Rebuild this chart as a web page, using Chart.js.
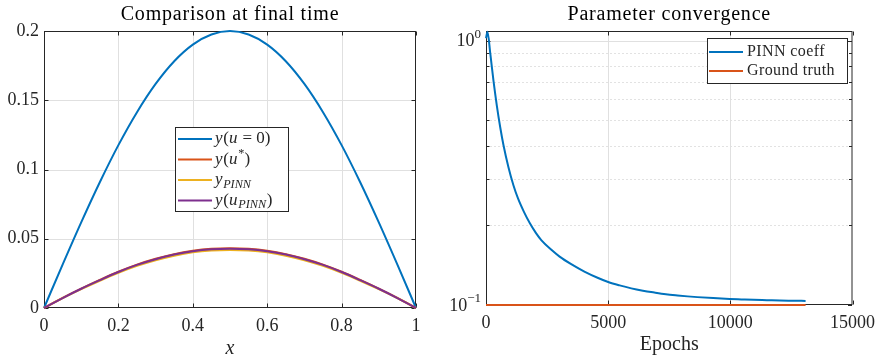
<!DOCTYPE html>
<html><head><meta charset="utf-8">
<script src="https://cdn.jsdelivr.net/npm/chart.js@4.4.1/dist/chart.umd.min.js"></script>
<style>
html,body{margin:0;padding:0;background:#fff;}
#wrap{position:relative;width:882px;height:360px;overflow:hidden;}
.box{position:absolute;top:0;width:441px;height:360px;}
</style></head><body>
<div id="wrap">
<div class="box" style="left:0"><canvas id="c1"></canvas></div>
<div class="box" style="left:441px"><canvas id="c2"></canvas></div>
</div>
<script>
// ---------------- data: left panel ----------------
const xPositions = [0,0.05,0.1,0.15,0.2,0.25,0.3,0.35,0.4,0.45,0.5,0.55,0.6,0.65,0.7,0.75,0.8,0.85,0.9,0.95,1];
const yNoControl = [0,0.0313,0.0618,0.0908,0.1176,0.1414,0.1618,0.1782,0.1902,0.1975,0.2000,0.1975,0.1902,0.1782,0.1618,0.1414,0.1176,0.0908,0.0618,0.0313,0];
const yOptimal   = [0,0.0073,0.0140,0.0203,0.0262,0.0313,0.0355,0.0389,0.0413,0.0427,0.0431,0.0427,0.0413,0.0389,0.0355,0.0313,0.0262,0.0203,0.0140,0.0073,0];
const yPinn      = [0,0.0071,0.0136,0.0197,0.0254,0.0304,0.0345,0.0378,0.0402,0.0415,0.0419,0.0415,0.0402,0.0378,0.0345,0.0304,0.0254,0.0197,0.0136,0.0071,0];
const yPinnCtrl  = [0,0.0072,0.0139,0.0201,0.0260,0.0311,0.0352,0.0386,0.0410,0.0424,0.0428,0.0424,0.0410,0.0386,0.0352,0.0311,0.0260,0.0201,0.0139,0.0072,0];
const xTickValues = [0,0.2,0.4,0.6,0.8,1];
const xTickLabels = ['0','0.2','0.4','0.6','0.8','1'];
const yTickValues = [0,0.05,0.1,0.15,0.2];
const yTickLabels = ['0','0.05','0.1','0.15','0.2'];
const leftSeriesNames = ['y(u = 0)','y(u*)','y_PINN','y(u_PINN)'];

// ---------------- data: right panel ----------------
const epochs    = [0,60,174,308,446,580,714,916,1119,1310,1553,1796,2040,2271,2676,3013,3487,4027,4566,5000,5470,5945,6420,6890,7360,7840,8250,8650,9300,9975,10450,10950,11500,12030,12550,13080];
const pinnCoeff = [1.02,1.08,0.896,0.702,0.565,0.471,0.4026,0.3325,0.2844,0.2529,0.2250,0.2036,0.1874,0.1756,0.1617,0.1524,0.1427,0.1338,0.1268,0.1222,0.1186,0.1156,0.1133,0.1115,0.1099,0.1087,0.1078,0.1071,0.1062,0.1054,0.1050,0.1046,0.1043,0.1040,0.1038,0.1036];
const truthEpochs = [0,13080];
const truthCoeff  = [0.1,0.1];
const epochTickValues = [0,5000,10000,15000];
const epochTickLabels = ['0','5000','10000','15000'];
const coeffMajorTicks = [0.1,1];
const coeffTickExponents = ['\u22121','0'];
const coeffMinorTicks = [0.2,0.3,0.4,0.5,0.6,0.7,0.8,0.9];
const rightSeriesNames = ['PINN coeff','Ground truth'];

// ---------------- styling ----------------
const FONT = '"Liberation Serif","Times New Roman",serif';
const INK = '#262626';
const GRIDC = '#e0e0e0';
const C_BLUE = '#0072BD', C_RED = '#D95319', C_YEL = '#EDB120', C_PUR = '#7E2F8E';
Chart.defaults.font.family = FONT;
Chart.defaults.color = INK;

const leftLegendRich = [
  [{t:'y',it:1},{t:'('},{t:'u',it:1},{t:' = 0)'}],
  [{t:'y',it:1},{t:'('},{t:'u',it:1},{t:'*',sup:1},{t:')'}],
  [{t:'y',it:1},{t:'PINN',it:1,sub:1}],
  [{t:'y',it:1},{t:'('},{t:'u',it:1},{t:'PINN',it:1,sub:1},{t:')'}]
];

function drawRich(ctx, x, y, parts, size){
  ctx.textAlign='left'; ctx.textBaseline='middle';
  let cx = x;
  for(const p of parts){
    const s = (p.sub||p.sup) ? size*0.72 : size;
    ctx.font = (p.it?'italic ':'') + s + 'px ' + FONT;
    const dy = p.sub ? size*0.28 : (p.sup ? -size*0.32 : 0);
    ctx.fillText(p.t, cx, y+dy);
    cx += ctx.measureText(p.t).width + (p.it ? 0.6 : 0.3);
  }
  return cx - x;
}

function line(ctx,x1,y1,x2,y2){ctx.beginPath();ctx.moveTo(x1,y1);ctx.lineTo(x2,y2);ctx.stroke();}

function framePlugin(o){
  return {
    id:'frame',
    beforeDatasetsDraw(chart){
      const ctx = chart.ctx, a = chart.chartArea, xs = chart.scales.x, ys = chart.scales.y;
      const L = a.left+0.5, R = a.right-0.5, T = a.top+0.5, B = a.bottom-0.5;
      ctx.save();
      ctx.lineWidth = 1;
      if(o.yMinor){
        ctx.strokeStyle = '#c4c4c4'; ctx.setLineDash([1,3]);
        o.yMinor.forEach(v=>{const p=Math.round(ys.getPixelForValue(v))+0.5; line(ctx,L,p,R,p);});
        ctx.setLineDash([]);
      }
      ctx.strokeStyle = GRIDC;
      o.xGrid.forEach(v=>{const p=Math.round(xs.getPixelForValue(v))+0.5; if(p>L+1&&p<R-1) line(ctx,p,T,p,B);});
      o.yGrid.forEach(v=>{const p=Math.round(ys.getPixelForValue(v))+0.5; if(p>T+1&&p<B-1) line(ctx,L,p,R,p);});
      ctx.strokeStyle = INK;
      ctx.strokeRect(L,T,R-L,B-T);
      const tl = 4, mtl = 3;
      o.xGrid.forEach(v=>{const p=Math.round(xs.getPixelForValue(v))+0.5; line(ctx,p,B,p,B-tl); line(ctx,p,T,p,T+tl);});
      o.yGrid.forEach(v=>{const p=Math.round(ys.getPixelForValue(v))+0.5; line(ctx,L,p,L+tl,p); line(ctx,R,p,R-tl,p);});
      if(o.yMinor){
        o.yMinor.forEach(v=>{const p=Math.round(ys.getPixelForValue(v))+0.5; line(ctx,L,p,L+mtl,p); line(ctx,R,p,R-mtl,p);});
      }
      ctx.restore();
    },
    afterDatasetsDraw(chart){
      const ctx = chart.ctx, a = chart.chartArea, ys = chart.scales.y;
      const cx = (a.left+a.right)/2;
      ctx.save();
      ctx.fillStyle = '#000';
      ctx.font = '20px ' + FONT;
      ctx.letterSpacing = o.titleSpacing || '0px';
      ctx.textAlign = 'center'; ctx.textBaseline = 'middle';
      ctx.fillText(o.title, cx, o.titleY);
      ctx.letterSpacing = '0px';
      ctx.font = (o.xLabelItalic?'italic ':'') + '20px ' + FONT;
      ctx.fillStyle = INK;
      ctx.fillText(o.xLabel, cx, o.xLabelY);
      if(o.logLabels){
        o.logLabels.values.forEach((v,i)=>{
          const p = ys.getPixelForValue(v);
          ctx.font = '13px ' + FONT;
          const ew = ctx.measureText(o.logLabels.exps[i]).width;
          const right = a.left - 5;
          ctx.textAlign='right'; ctx.textBaseline='middle';
          ctx.fillText(o.logLabels.exps[i], right, p-6);
          ctx.font = '18px ' + FONT;
          ctx.fillText('10', right-ew, p+1);
        });
      }
      const lg = o.legend;
      ctx.fillStyle = '#fff'; ctx.strokeStyle = INK; ctx.lineWidth = 1;
      ctx.fillRect(lg.x, lg.y, lg.w, lg.h);
      ctx.strokeRect(lg.x+0.5, lg.y+0.5, lg.w, lg.h);
      lg.rows.forEach((yy,i)=>{
        ctx.strokeStyle = lg.colors[i]; ctx.lineWidth = 2;
        line(ctx, lg.lineX1, yy, lg.lineX2, yy);
        ctx.fillStyle = INK;
        if(lg.rich){ drawRich(ctx, lg.textX, yy, lg.rich[i], lg.size); }
        else { ctx.font=lg.size+'px '+FONT; ctx.letterSpacing='0.4px'; ctx.textAlign='left'; ctx.textBaseline='middle'; ctx.fillText(lg.names[i], lg.textX, yy); ctx.letterSpacing='0px'; }
      });
      ctx.restore();
    }
  };
}

// order: later-plotted series (as in the original) get a lower order so they sit on top
function ds(xArr, yArr, color, label, order){
  return { label, order, data: xArr.map((x,i)=>({x, y:yArr[i]})), borderColor: color, backgroundColor: color,
           borderWidth: 2, pointRadius: 0, fill:false, clip:false, cubicInterpolationMode:'monotone' };
}

const tickFont = {family: FONT, size: 18};

new Chart(document.getElementById('c1'), {
  type:'line',
  data:{ datasets:[
    ds(xPositions, yNoControl, C_BLUE, leftSeriesNames[0], 4),
    ds(xPositions, yOptimal,   C_RED,  leftSeriesNames[1], 3),
    ds(xPositions, yPinn,      C_YEL,  leftSeriesNames[2], 2),
    ds(xPositions, yPinnCtrl,  C_PUR,  leftSeriesNames[3], 1)
  ]},
  options:{
    responsive:true, maintainAspectRatio:false, animation:false, devicePixelRatio:1,
    layout:{padding:{top:31,right:25,bottom:0,left:0}},
    plugins:{legend:{display:false}, title:{display:false}, tooltip:{enabled:false}},
    scales:{
      x:{type:'linear', min:0, max:1,
         afterBuildTicks:s=>{s.ticks = xTickValues.map(v=>({value:v}));},
         afterFit:s=>{s.height = 52;},
         ticks:{callback:(v,i)=>xTickLabels[i], font:tickFont, color:INK, padding:7, maxRotation:0, autoSkip:false},
         grid:{display:false, drawTicks:false}, border:{display:false}},
      y:{type:'linear', min:0, max:0.2,
         afterBuildTicks:s=>{s.ticks = yTickValues.map(v=>({value:v}));},
         afterFit:s=>{s.width = 44;},
         ticks:{callback:(v,i)=>yTickLabels[i], font:tickFont, color:INK, padding:5, autoSkip:false},
         grid:{display:false, drawTicks:false}, border:{display:false}}
    }
  },
  plugins:[framePlugin({
    xGrid:xTickValues, yGrid:yTickValues, title:'Comparison at final time', titleY:15, titleSpacing:'0.8px',
    xLabel:'x', xLabelItalic:true, xLabelY:349,
    legend:{x:175,y:127,w:113,h:84,rows:[139,159.5,180,200.5],lineX1:178,lineX2:212,textX:215,size:17,
            colors:[C_BLUE,C_RED,C_YEL,C_PUR], rich:leftLegendRich}
  })]
});

new Chart(document.getElementById('c2'), {
  type:'line',
  data:{ datasets:[
    ds(epochs, pinnCoeff, C_BLUE, rightSeriesNames[0], 2),
    ds(truthEpochs, truthCoeff, C_RED, rightSeriesNames[1], 1)
  ]},
  options:{
    responsive:true, maintainAspectRatio:false, animation:false, devicePixelRatio:1,
    layout:{padding:{top:31,right:27,bottom:0,left:0}},
    plugins:{legend:{display:false}, title:{display:false}, tooltip:{enabled:false}},
    scales:{
      x:{type:'linear', min:0, max:15000,
         afterBuildTicks:s=>{s.ticks = epochTickValues.map(v=>({value:v}));},
         afterFit:s=>{s.height = 55;},
         ticks:{callback:(v,i)=>epochTickLabels[i], font:tickFont, color:INK, padding:7, maxRotation:0, autoSkip:false},
         grid:{display:false, drawTicks:false}, border:{display:false}},
      y:{type:'logarithmic', min:0.1, max:1.087,
         afterBuildTicks:s=>{s.ticks = coeffMajorTicks.map(v=>({value:v}));},
         afterFit:s=>{s.width = 45;},
         ticks:{callback:()=>'', font:tickFont, color:INK, padding:5, autoSkip:false},
         grid:{display:false, drawTicks:false}, border:{display:false}}
    }
  },
  plugins:[framePlugin({
    xGrid:epochTickValues, yGrid:coeffMajorTicks, yMinor:coeffMinorTicks,
    title:'Parameter convergence', titleY:15, titleSpacing:'0.8px',
    xLabel:'Epochs', xLabelItalic:false, xLabelY:345,
    logLabels:{values:coeffMajorTicks, exps:coeffTickExponents},
    legend:{x:266,y:38,w:140,h:45,rows:[52,71],lineX1:268,lineX2:302,textX:306,size:16,
            colors:[C_BLUE,C_RED], names:rightSeriesNames}
  })]
});
</script>
</body></html>
